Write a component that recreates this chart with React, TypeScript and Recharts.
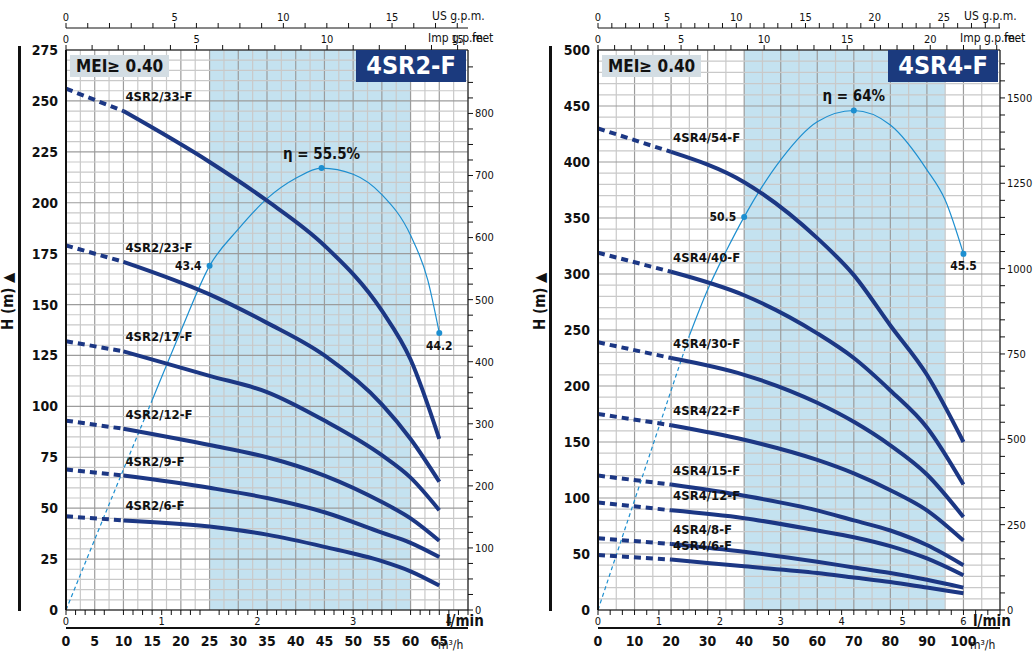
import React from "react";
import {
  ComposedChart,
  Line,
  XAxis,
  YAxis,
  ReferenceArea,
  ReferenceDot,
  ReferenceLine,
  LabelList,
} from "recharts";

const FONT = "'Liberation Sans Narrow', 'DejaVu Sans Condensed', 'Roboto', sans-serif";
const NAVY = "#1c3784";
const SKY = "#1d8fd0";

// ---- left panel (4SR2-F) ----
const L_FLOW = [0, 10, 25, 35, 45, 55, 60, 65];
const L_MODELS = ["4SR2/33-F", "4SR2/23-F", "4SR2/17-F", "4SR2/12-F", "4SR2/9-F", "4SR2/6-F"];
const L_HEADS = [
  [256, 245, 220, 201, 179, 147, 123, 84],
  [179, 171, 155, 141, 125, 101, 84, 63],
  [132, 127, 115, 107, 93, 76, 65, 49],
  [93, 89, 81, 75, 66, 53, 45, 34],
  [69, 66, 60, 55, 48, 38, 33, 26],
  [46, 44, 41, 37, 31, 24, 19, 12],
];
const L_EFF_FLOW = [0, 10, 15, 20, 25, 30, 35, 40, 44.5, 50, 55, 60, 63, 65];
const L_EFF = [0, 69, 103, 137, 169, 187, 202, 212, 217, 214, 204, 184, 162, 136];
const L_EFF_MARKS = [
  { q: 25, h: 169, text: "43.4" },
  { q: 44.5, h: 217, text: "η = 55.5%" },
  { q: 65, h: 136, text: "44.2" },
];

// ---- right panel (4SR4-F) ----
const R_FLOW = [0, 20, 40, 60, 70, 80, 90, 100];
const R_MODELS = ["4SR4/54-F", "4SR4/40-F", "4SR4/30-F", "4SR4/22-F", "4SR4/15-F", "4SR4/12-F", "4SR4/8-F", "4SR4/6-F"];
const R_HEADS = [
  [430, 409, 382, 332, 299, 254, 210, 150],
  [319, 302, 281, 247, 225, 196, 163, 112],
  [239, 225, 210, 185, 168, 147, 121, 83],
  [175, 165, 152, 134, 122, 107, 89, 62],
  [120, 112, 102, 89, 80, 71, 58, 40],
  [96, 89, 82, 71, 65, 57, 46, 31],
  [64, 59, 52, 43, 38, 33, 27, 20],
  [49, 45, 39, 33, 29, 25, 20, 15],
];
const R_EFF_FLOW = [0, 10, 20, 25, 30, 35, 40, 50, 60, 70, 80, 90, 95, 100];
const R_EFF = [0, 98, 196, 245, 286, 320, 351, 402, 436, 446, 433, 393, 366, 318];
const R_EFF_MARKS = [
  { q: 40, h: 351, text: "50.5" },
  { q: 70, h: 446, text: "η = 64%" },
  { q: 100, h: 318, text: "45.5" },
];

const range = (a: number, b: number, s: number) => {
  const out: number[] = [];
  for (let v = a; v <= b + 1e-9; v += s) out.push(Math.round(v * 100) / 100);
  return out;
};
const every = (step: number) => (v: number) =>
  Math.abs(v / step - Math.round(v / step)) < 1e-6 ? String(v) : "";

type PanelProps = {
  flow: number[];
  models: string[];
  heads: number[][];
  dashTo: number;
  effFlow: number[];
  eff: number[];
  effDashTo: number;
  effMarks: { q: number; h: number; text: string }[];
  xMax: number;
  xTicks: number[];
  yMax: number;
  yStep: number;
  yMinor: number;
  xMinor: number;
  band: [number, number];
  feetTicks: number[];
  feetLabel: number;
  usTicks: number[];
  usLabel: number;
  impTicks: number[];
  impLabel: number;
  m3Ticks: number[];
  m3Label: number;
  left: number;
};

function Panel(p: PanelProps) {
  const width = 66 + 402 + 36;
  const curves = p.heads.map((hs, i) => {
    const pts = p.flow.map((q, j) => ({ q, h: hs[j] }));
    return {
      name: p.models[i],
      dashed: pts.filter((d) => d.q <= p.dashTo),
      solid: pts.filter((d) => d.q >= p.dashTo),
    };
  });
  const effPts = p.effFlow.map((q, j) => ({ q, h: p.eff[j] }));
  const feetMax = p.yMax * 3.2808;
  const usMax = p.xMax / 3.785;
  const impMax = p.xMax / 4.546;
  const m3Max = p.xMax * 0.06;
  const tick = { fontSize: 12, fill: "#111", fontFamily: FONT, fontWeight: 700 };
  const smallTick = { fontSize: 11, fill: "#111", fontFamily: FONT };
  const hidden = (axis: string, max: number, horiz: boolean) => (
    <Line
      xAxisId={horiz ? axis : "main"}
      yAxisId={horiz ? "m" : axis}
      data={horiz ? [{ q: 0, h: 0 }, { q: max, h: 0 }] : [{ q: 0, h: 0 }, { q: 0, h: max }]}
      dataKey="h"
      stroke="none"
      dot={false}
      isAnimationActive={false}
    />
  );
  return (
    <div style={{ position: "absolute", left: p.left, top: 0, width, height: 655 }}>
      <ComposedChart width={width} height={655} margin={{ top: 0, right: 0, bottom: 0, left: 0 }}>
        <XAxis xAxisId="imp" orientation="top" type="number" dataKey="q" domain={[0, impMax]} ticks={p.impTicks}
          tickFormatter={every(p.impLabel)} height={22} tick={smallTick} tickSize={5} stroke="#111" allowDataOverflow />
        <XAxis xAxisId="us" orientation="top" type="number" dataKey="q" domain={[0, usMax]} ticks={p.usTicks}
          tickFormatter={every(p.usLabel)} height={28} tick={smallTick} tickSize={5} stroke="#111" allowDataOverflow />
        <XAxis xAxisId="main" dataKey="q" type="number" domain={[0, p.xMax]} ticks={p.xTicks} height={27}
          tick={{ ...tick, fontSize: 14 }} tickLine={false} stroke="#111" strokeWidth={2} allowDataOverflow />
        <XAxis xAxisId="m3" type="number" dataKey="q" domain={[0, m3Max]} ticks={p.m3Ticks}
          tickFormatter={every(p.m3Label)} height={18} tick={smallTick} tickSize={5} stroke="#111" allowDataOverflow />
        <YAxis yAxisId="m" type="number" domain={[0, p.yMax]} ticks={range(0, p.yMax, p.yStep)} width={66}
          tick={{ ...tick, fontSize: 14 }} tickLine={false} stroke="#111" strokeWidth={2}
          label={{ value: "H (m) ▲", angle: -90, position: "insideLeft", offset: 8, style: { fontFamily: FONT, fontWeight: 700, fontSize: 15, fill: "#111" } }} />
        <YAxis yAxisId="ft" orientation="right" type="number" domain={[0, feetMax]} ticks={p.feetTicks}
          tickFormatter={every(p.feetLabel)} width={36} tick={smallTick} tickSize={5} stroke="#111" allowDataOverflow />
        {hidden("imp", impMax, true)}
        {hidden("us", usMax, true)}
        {hidden("m3", m3Max, true)}
        {hidden("ft", feetMax, false)}
        <ReferenceArea xAxisId="main" yAxisId="m" x1={p.band[0]} x2={p.band[1]} y1={0} y2={p.yMax} fill="#c4e2f0" fillOpacity={1} stroke="none" />
        {range(0, p.xMax, p.xMinor).map((v) => (
          <ReferenceLine key={"vx" + v} xAxisId="main" yAxisId="m" x={v}
            stroke={Math.abs(v / p.xTicks[1] - Math.round(v / p.xTicks[1])) < 1e-6 ? "#9c9c9c" : "#c9c9c9"} strokeWidth={1.2} />
        ))}
        {range(0, p.yMax, p.yMinor).map((v) => (
          <ReferenceLine key={"hy" + v} xAxisId="main" yAxisId="m" y={v}
            stroke={v % p.yStep === 0 ? "#9c9c9c" : "#c9c9c9"} strokeWidth={1.2} />
        ))}
        <Line xAxisId="main" yAxisId="m" data={effPts.filter((d) => d.q <= p.effDashTo)} dataKey="h" type="monotone"
          stroke={SKY} strokeWidth={1.2} strokeDasharray="4 3" dot={false} isAnimationActive={false} />
        <Line xAxisId="main" yAxisId="m" data={effPts.filter((d) => d.q >= p.effDashTo)} dataKey="h" type="monotone"
          stroke={SKY} strokeWidth={1.2} dot={false} isAnimationActive={false} />
        {curves.map((c) => (
          <Line key={c.name + "d"} xAxisId="main" yAxisId="m" data={c.dashed} dataKey="h" type="monotone"
            stroke={NAVY} strokeWidth={4} strokeDasharray="7 5" dot={false} isAnimationActive={false}>
            <LabelList dataKey="h" content={(lp: any) =>
              lp.index === c.dashed.length - 1 ? (
                <text x={lp.x + 2} y={lp.y - 10} fontFamily={FONT} fontWeight={700} fontSize={13} fill="#111">{c.name}</text>
              ) : null} />
          </Line>
        ))}
        {curves.map((c) => (
          <Line key={c.name + "s"} xAxisId="main" yAxisId="m" data={c.solid} dataKey="h" type="monotone"
            stroke={NAVY} strokeWidth={4} dot={false} isAnimationActive={false} />
        ))}
        {p.effMarks.map((m, i) => (
          <ReferenceDot key={m.text} xAxisId="main" yAxisId="m" x={m.q} y={m.h} r={3} fill={SKY} stroke="none"
            label={{ value: m.text, position: i === 1 ? "top" : i === 0 ? "left" : "bottom", offset: i === 1 ? 6 : 5,
              style: { fontFamily: FONT, fontWeight: 700, fontSize: i === 1 ? 15 : 12, fill: "#111" } }} />
        ))}
      </ComposedChart>
    </div>
  );
}

const unit: React.CSSProperties = { position: "absolute", fontFamily: FONT, fontSize: 12, color: "#111" };

export default function App() {
  return (
    <div style={{ position: "fixed", left: 0, top: 0, width: 1036, height: 655, background: "#fff" }}>
      <Panel flow={L_FLOW} models={L_MODELS} heads={L_HEADS} dashTo={10}
        effFlow={L_EFF_FLOW} eff={L_EFF} effDashTo={15} effMarks={L_EFF_MARKS}
        xMax={70} xTicks={range(0, 65, 5)} xMinor={2.5} yMax={275} yStep={25} yMinor={5} band={[25, 60]}
        feetTicks={range(0, 875, 25)} feetLabel={100} usTicks={range(0, 18, 1)} usLabel={5}
        impTicks={range(0, 15, 1)} impLabel={5} m3Ticks={range(0, 4.2, 0.1)} m3Label={0.5}
        left={0} />
      <Panel flow={R_FLOW} models={R_MODELS} heads={R_HEADS} dashTo={20}
        effFlow={R_EFF_FLOW} eff={R_EFF} effDashTo={25} effMarks={R_EFF_MARKS}
        xMax={110} xTicks={range(0, 100, 10)} xMinor={5} yMax={500} yStep={50} yMinor={10} band={[40, 95]}
        feetTicks={range(0, 1600, 50)} feetLabel={250} usTicks={range(0, 29, 1)} usLabel={5}
        impTicks={range(0, 24, 1)} impLabel={5} m3Ticks={range(0, 6.6, 0.2)} m3Label={1}
        left={532} />
      <div style={{ position: "absolute", left: 18, top: 46, width: 3, height: 565, background: "#111" }} />
      <div style={{ position: "absolute", left: 549, top: 46, width: 3, height: 565, background: "#111" }} />
      {[{ l: 70, r: 466, t: "4SR2-F", lm: 446 }, { l: 602, r: 998, t: "4SR4-F", lm: 973 }].map((b) => (
        <React.Fragment key={b.t}>
          <div style={{ position: "absolute", left: b.l, top: 55, padding: "1px 6px", background: "#d3dde3", fontFamily: FONT, fontWeight: 700, fontSize: 17, color: "#111" }}>MEI≥ 0.40</div>
          <div style={{ position: "absolute", left: b.r - 110, top: 50, width: 110, height: 32, background: "#1b3a7e", color: "#fff", fontFamily: FONT, fontWeight: 700, fontSize: 25, textAlign: "center", lineHeight: "32px" }}>{b.t}</div>
          <div style={{ ...unit, left: b.r - 34, top: 9 }}>US g.p.m.</div>
          <div style={{ ...unit, left: b.r - 38, top: 31 }}>Imp g.p.m.</div>
          <div style={{ ...unit, left: b.r + 6, top: 31 }}>feet</div>
          <div style={{ ...unit, left: b.lm, top: 612, fontSize: 15, fontWeight: 700 }}>l/min</div>
          <div style={{ ...unit, left: b.r - 28, top: 638 }}>m³/h</div>
        </React.Fragment>
      ))}
    </div>
  );
}
